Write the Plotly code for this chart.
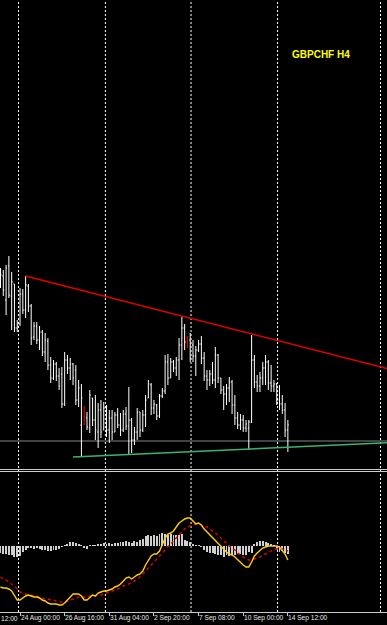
import plotly.graph_objects as go

# ---------------- data (GBPCHF H4, one entry per bar) ----------------
high = [
    1.7464, 1.7460, 1.7470, 1.7488, 1.7456, 1.7432, 1.7360, 1.7424, 1.7422, 1.7448,
    1.7432, 1.7392, 1.7356, 1.7356, 1.7348, 1.7340, 1.7334, 1.7324, 1.7286, 1.7280,
    1.7276, 1.7264, 1.7266, 1.7296, 1.7290, 1.7284, 1.7274, 1.7270, 1.7240, 1.7232,
    1.7188, 1.7176, 1.7220, 1.7204, 1.7210, 1.7194, 1.7200, 1.7196, 1.7190, 1.7180,
    1.7180, 1.7176, 1.7184, 1.7174, 1.7180, 1.7186, 1.7226, 1.7164, 1.7146, 1.7184,
    1.7176, 1.7180, 1.7210, 1.7240, 1.7234, 1.7200, 1.7192, 1.7212, 1.7224, 1.7290,
    1.7292, 1.7284, 1.7280, 1.7286, 1.7324, 1.7366, 1.7352, 1.7328, 1.7334, 1.7320,
    1.7308, 1.7320, 1.7328, 1.7296, 1.7260, 1.7260, 1.7276, 1.7306, 1.7292, 1.7244,
    1.7228, 1.7232, 1.7246, 1.7240, 1.7210, 1.7176, 1.7172, 1.7170, 1.7160, 1.7160,
    1.7330, 1.7290, 1.7250, 1.7256, 1.7276, 1.7290, 1.7280, 1.7270, 1.7240, 1.7234,
    1.7230, 1.7210, 1.7194, 1.7160,
]
low = [
    1.7424, 1.7408, 1.7370, 1.7404, 1.7340, 1.7336, 1.7336, 1.7348, 1.7372, 1.7364,
    1.7376, 1.7310, 1.7320, 1.7312, 1.7300, 1.7288, 1.7276, 1.7260, 1.7234, 1.7240,
    1.7238, 1.7220, 1.7184, 1.7188, 1.7252, 1.7240, 1.7230, 1.7190, 1.7186, 1.7088,
    1.7150, 1.7140, 1.7134, 1.7148, 1.7120, 1.7104, 1.7124, 1.7140, 1.7126, 1.7114,
    1.7120, 1.7136, 1.7144, 1.7128, 1.7136, 1.7140, 1.7090, 1.7094, 1.7110, 1.7120,
    1.7126, 1.7136, 1.7146, 1.7204, 1.7170, 1.7172, 1.7160, 1.7164, 1.7204, 1.7212,
    1.7230, 1.7244, 1.7256, 1.7248, 1.7240, 1.7280, 1.7300, 1.7304, 1.7276, 1.7276,
    1.7248, 1.7296, 1.7272, 1.7238, 1.7220, 1.7228, 1.7232, 1.7224, 1.7234, 1.7212,
    1.7180, 1.7190, 1.7196, 1.7172, 1.7150, 1.7142, 1.7140, 1.7136, 1.7136, 1.7100,
    1.7154, 1.7224, 1.7216, 1.7216, 1.7230, 1.7230, 1.7220, 1.7216, 1.7216, 1.7190,
    1.7180, 1.7172, 1.7126, 1.7096,
]
open_ = [
    1.7430, 1.7448, 1.7400, 1.7468, 1.7408, 1.7432, 1.7344, 1.7352, 1.7412, 1.7380,
    1.7428, 1.7388, 1.7326, 1.7348, 1.7320, 1.7336, 1.7296, 1.7318, 1.7270, 1.7244,
    1.7272, 1.7248, 1.7252, 1.7192, 1.7280, 1.7264, 1.7272, 1.7260, 1.7200, 1.7150,
    1.7182, 1.7164, 1.7144, 1.7204, 1.7160, 1.7136, 1.7180, 1.7140, 1.7184, 1.7140,
    1.7164, 1.7136, 1.7170, 1.7150, 1.7140, 1.7172, 1.7148, 1.7160, 1.7120, 1.7136,
    1.7176, 1.7140, 1.7170, 1.7204, 1.7230, 1.7184, 1.7190, 1.7168, 1.7208, 1.7218,
    1.7276, 1.7244, 1.7276, 1.7264, 1.7280, 1.7310, 1.7344, 1.7324, 1.7320, 1.7310,
    1.7288, 1.7300, 1.7312, 1.7284, 1.7248, 1.7240, 1.7252, 1.7240, 1.7290, 1.7244,
    1.7220, 1.7212, 1.7224, 1.7236, 1.7190, 1.7164, 1.7150, 1.7160, 1.7144, 1.7144,
    1.7156, 1.7280, 1.7236, 1.7228, 1.7244, 1.7264, 1.7276, 1.7234, 1.7228, 1.7232,
    1.7200, 1.7192, 1.7180, 1.7140,
]
close = [
    1.7450, 1.7420, 1.7464, 1.7410, 1.7436, 1.7344, 1.7350, 1.7412, 1.7380, 1.7430,
    1.7388, 1.7324, 1.7348, 1.7320, 1.7336, 1.7296, 1.7320, 1.7270, 1.7244, 1.7272,
    1.7248, 1.7228, 1.7192, 1.7280, 1.7264, 1.7272, 1.7244, 1.7200, 1.7224, 1.7204,
    1.7160, 1.7146, 1.7210, 1.7160, 1.7140, 1.7180, 1.7136, 1.7184, 1.7140, 1.7164,
    1.7136, 1.7170, 1.7150, 1.7140, 1.7172, 1.7148, 1.7160, 1.7120, 1.7136, 1.7176,
    1.7140, 1.7170, 1.7200, 1.7232, 1.7184, 1.7192, 1.7168, 1.7208, 1.7218, 1.7276,
    1.7244, 1.7276, 1.7264, 1.7280, 1.7310, 1.7344, 1.7316, 1.7308, 1.7284, 1.7288,
    1.7300, 1.7312, 1.7284, 1.7248, 1.7240, 1.7252, 1.7240, 1.7290, 1.7244, 1.7220,
    1.7212, 1.7224, 1.7236, 1.7190, 1.7164, 1.7150, 1.7160, 1.7144, 1.7152, 1.7156,
    1.7280, 1.7236, 1.7228, 1.7244, 1.7264, 1.7276, 1.7234, 1.7228, 1.7232, 1.7200,
    1.7192, 1.7180, 1.7140, 1.7150,
]
red_bars = [30, 67]

macd_hist = [
    -0.0007, -0.0008, -0.0008, -0.0009, -0.0009, -0.0011, -0.0011, -0.0010, -0.0006, -0.0004,
    -0.0002, -0.0002, -0.0003, -0.0002, -0.0003, -0.0004, -0.0004, -0.0005, -0.0005, -0.0004,
    -0.0004, -0.0003, -0.0001, 0.0001, 0.0002, 0.0004, 0.0004, 0.0003, 0.0002, 0.0001,
    -0.0002, -0.0003, 0.0001, 0.0001, 0.0001, 0.0002, 0.0002, 0.0003, 0.0002, 0.0003,
    0.0002, 0.0003, 0.0003, 0.0004, 0.0004, 0.0005, 0.0004, 0.0003, 0.0005, 0.0004,
    0.0006, 0.0007, 0.0010, 0.0011, 0.0010, 0.0011, 0.0010, 0.0012, 0.0013, 0.0012,
    0.0011, 0.0012, 0.0011, 0.0011, 0.0011, 0.0012, 0.0006, 0.0005, 0.0004, 0.0002,
    0.0001, 0.00005, -0.0001, -0.0004, -0.0006, -0.0007, -0.0007, -0.0008, -0.0009, -0.0009,
    -0.0011, -0.0009, -0.0010, -0.0009, -0.0009, -0.0008, -0.0008, -0.0009, -0.0009, -0.0006,
    -0.0007, 0.0002, 0.0004, 0.0005, 0.0005, 0.0004, 0.0003, 0.0002, 0.00005, -0.0004,
    -0.0006, -0.0005, -0.0007, -0.0008,
]
macd_line = [
    -0.0041, -0.0042, -0.0042, -0.0043, -0.0045, -0.0050, -0.0054, -0.0054, -0.0052, -0.0050,
    -0.0049, -0.0050, -0.0051, -0.0051, -0.0052, -0.0054, -0.0055, -0.0057, -0.0058, -0.0058,
    -0.0058, -0.0059, -0.0059, -0.0057, -0.0054, -0.0050, -0.0048, -0.0048, -0.0048, -0.0050,
    -0.0054, -0.0054, -0.0051, -0.0049, -0.0050, -0.0047, -0.0046, -0.0045, -0.0045, -0.0044,
    -0.0043, -0.0041, -0.0040, -0.0038, -0.0035, -0.0032, -0.0031, -0.0033, -0.0031, -0.0029,
    -0.0028, -0.0025, -0.0019, -0.0014, -0.0010, -0.0008, -0.0008, -0.0005, 0.0001, 0.0008,
    0.0012, 0.0013, 0.0015, 0.0019, 0.0023, 0.0025, 0.0027, 0.0028, 0.0028, 0.0025,
    0.0022, 0.0023, 0.0021, 0.0017, 0.0014, 0.0012, 0.0008, 0.0006, 0.0002, -0.0001,
    -0.0004, -0.0006, -0.0008, -0.0009, -0.0011, -0.0014, -0.0017, -0.0019, -0.0021, -0.0021,
    -0.0016, -0.0010, -0.0007, -0.0004, -0.0002, -0.0001, 0.0000, 0.0000, 0.0000, 0.0000,
    -0.0001, -0.0004, -0.0008, -0.0014,
]
macd_signal = [
    -0.0031, -0.0033, -0.0034, -0.0036, -0.0038, -0.0040, -0.0043, -0.0046, -0.0047, -0.0048,
    -0.0049, -0.0049, -0.0050, -0.0050, -0.0051, -0.0052, -0.0053, -0.0053, -0.0054, -0.0054,
    -0.0055, -0.0056, -0.0056, -0.0056, -0.0055, -0.0054, -0.0053, -0.0052, -0.0051, -0.0051,
    -0.0051, -0.0051, -0.0050, -0.0050, -0.0050, -0.0049, -0.0049, -0.0048, -0.0047, -0.0046,
    -0.0045, -0.0044, -0.0043, -0.0042, -0.0040, -0.0039, -0.0038, -0.0036, -0.0035, -0.0033,
    -0.0031, -0.0028, -0.0025, -0.0021, -0.0018, -0.0015, -0.0012, -0.0009, -0.0006, -0.0003,
    0.0000, 0.0003, 0.0006, 0.0009, 0.0012, 0.0015, 0.0017, 0.0019, 0.0020, 0.0021,
    0.0022, 0.0022, 0.0021, 0.0020, 0.0019, 0.0017, 0.0015, 0.0013, 0.0011, 0.0008,
    0.0005, 0.0003, 0.0000, -0.0002, -0.0004, -0.0007, -0.0009, -0.0011, -0.0013, -0.0014,
    -0.0014, -0.0013, -0.0012, -0.0011, -0.0009, -0.0008, -0.0006, -0.0005, -0.0004, -0.0003,
    -0.0002, -0.0003, -0.0004, -0.0005,
]

# first label is only partly visible in the reference (its time part at the left edge)
edge_label = "12:00"
tick_bars = [7, 23, 39, 55, 71, 87, 103]
tick_labels = ["24 Aug 00:00", "26 Aug 16:00", "31 Aug 04:00",
               "2 Sep 20:00", "7 Sep 08:00", "10 Sep 00:00", "14 Sep 12:00"]
week_separators = [6.45, 37.6, 68.3, 99.3, 136.2]
resistance_pts = [(9, 1.7448), (65, 1.7368)]
support_pts = [(26, 1.7086), (89, 1.7102)]
level_price = 1.7118
title_text = "GBPCHF H4"

# ---------------- geometry / style ----------------
W, H = 387, 625
B_MARGIN = 13
PLOT_H = H - B_MARGIN
X_MIN, X_MAX = -0.179, 138.53
MAIN_RANGE = [1.7062, 1.8000]
MACD_RANGE = [-0.0066, 0.0075]
main_dom = [(PLOT_H - 469) / PLOT_H, 1.0]
macd_dom = [0.0, (PLOT_H - 471) / PLOT_H]
LABEL_FONT = dict(family="Liberation Sans, Arial, sans-serif", size=6.6, color="#e8e8e8")

bar_idx = list(range(len(close)))


def ray(p1, p2, x_end):
    slope = (p2[1] - p1[1]) / (p2[0] - p1[0])
    return [p1[0], x_end], [p1[1], p1[1] + slope * (x_end - p1[0])]


def xpaper(v):
    return (v - X_MIN) / (X_MAX - X_MIN)


fig = go.Figure()

white_idx = [i for i in bar_idx if i not in red_bars]
fig.add_trace(go.Ohlc(
    x=white_idx,
    open=[open_[i] for i in white_idx], high=[high[i] for i in white_idx],
    low=[low[i] for i in white_idx], close=[close[i] for i in white_idx],
    increasing=dict(line=dict(color="#ffffff", width=1)),
    decreasing=dict(line=dict(color="#ffffff", width=1)),
    tickwidth=0.35, xaxis="x", yaxis="y", hoverinfo="skip",
))
fig.add_trace(go.Ohlc(
    x=red_bars,
    open=[open_[i] for i in red_bars], high=[high[i] for i in red_bars],
    low=[low[i] for i in red_bars], close=[close[i] for i in red_bars],
    increasing=dict(line=dict(color="#ff0000", width=1)),
    decreasing=dict(line=dict(color="#ff0000", width=1)),
    tickwidth=0.01, xaxis="x", yaxis="y", hoverinfo="skip",
))

rx, ry = ray(resistance_pts[0], resistance_pts[1], X_MAX)
fig.add_trace(go.Scatter(x=rx, y=ry, mode="lines", line=dict(color="#e00000", width=1.5),
                         xaxis="x", yaxis="y", hoverinfo="skip"))
sx, sy = ray(support_pts[0], support_pts[1], X_MAX)
fig.add_trace(go.Scatter(x=sx, y=sy, mode="lines", line=dict(color="#3cb371", width=1.5),
                         xaxis="x", yaxis="y", hoverinfo="skip"))

fig.add_trace(go.Bar(x=bar_idx, y=macd_hist, width=0.34, marker=dict(color="#d0d0d0", line=dict(width=0)),
                     xaxis="x2", yaxis="y2", hoverinfo="skip"))
fig.add_trace(go.Scatter(x=bar_idx, y=macd_signal, mode="lines",
                         line=dict(color="#e00000", width=1.5, dash="3px,3px"),
                         xaxis="x2", yaxis="y2", hoverinfo="skip"))
fig.add_trace(go.Scatter(x=bar_idx, y=macd_line, mode="lines",
                         line=dict(color="#ffd000", width=1.4),
                         xaxis="x2", yaxis="y2", hoverinfo="skip"))

shapes = []
for s in week_separators:
    shapes.append(dict(type="line", xref="x", yref="paper", x0=s, x1=s, y0=0, y1=1,
                       line=dict(color="#ffffff", width=1, dash="2px,2px"), layer="below"))
shapes.append(dict(type="line", xref="paper", yref="y", x0=0, x1=1, y0=level_price, y1=level_price,
                   line=dict(color="#80868c", width=1), layer="below"))
for py in (469.5, 471.5):
    yp = (PLOT_H - py) / PLOT_H
    shapes.append(dict(type="line", xref="paper", yref="paper", x0=0, x1=1, y0=yp, y1=yp,
                       line=dict(color="#d0d0d0", width=1)))

label_y = (PLOT_H - 618) / PLOT_H
annotations = [dict(text="<b>%s</b>" % title_text, xref="paper", yref="paper",
                    x=320.5 / W, y=(PLOT_H - 54) / PLOT_H, xanchor="center", yanchor="middle",
                    showarrow=False, font=dict(family="Liberation Sans, Arial, sans-serif", size=10, color="#ffff00"))]
annotations.append(dict(text=edge_label, xref="paper", yref="paper", x=0, y=label_y,
                        xanchor="left", yanchor="middle", showarrow=False, borderpad=0, font=LABEL_FONT))
for b, t in zip(tick_bars, tick_labels):
    annotations.append(dict(text=t, xref="paper", yref="paper", x=xpaper(b) - 0.5 / W, y=label_y,
                            xanchor="left", yanchor="middle", showarrow=False, borderpad=0,
                            font=LABEL_FONT))

fig.update_layout(
    width=W, height=H, margin=dict(l=0, r=0, t=0, b=B_MARGIN, pad=0),
    paper_bgcolor="#000000", plot_bgcolor="#000000", showlegend=False, hovermode=False,
    bargap=0,
    xaxis=dict(range=[X_MIN, X_MAX], domain=[0, 1], anchor="y", visible=False,
               rangeslider=dict(visible=False), fixedrange=True),
    yaxis=dict(range=MAIN_RANGE, domain=main_dom, anchor="x", visible=False, fixedrange=True),
    xaxis2=dict(range=[X_MIN, X_MAX], domain=[0, 1], anchor="y2", showline=True, linecolor="#c8c8c8",
                linewidth=1, ticks="outside", ticklen=3, tickcolor="#c8c8c8", tickwidth=1,
                tickmode="array", tickvals=tick_bars, showticklabels=False, showgrid=False,
                zeroline=False, rangeslider=dict(visible=False), fixedrange=True),
    yaxis2=dict(range=MACD_RANGE, domain=macd_dom, anchor="x2", visible=False, fixedrange=True),
    shapes=shapes, annotations=annotations,
)

fig.write_html("out.html", config={"displayModeBar": False})
